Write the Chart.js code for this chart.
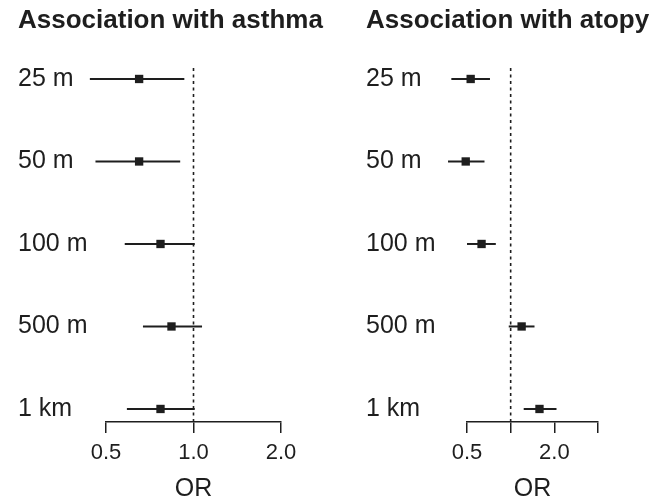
<!DOCTYPE html>
<html>
<head>
<meta charset="utf-8">
<script src="https://cdn.jsdelivr.net/npm/chart.js@4/dist/chart.umd.min.js"></script>
<style>
  body { margin: 0; background: #fff; }
  #wrap { position: relative; width: 663px; height: 500px; }
  canvas { position: absolute; top: 0; }
</style>
</head>
<body>
<div id="wrap">
  <canvas id="asthma" width="331" height="500" style="left:0"></canvas>
  <canvas id="atopy" width="332" height="500" style="left:331px"></canvas>
</div>
<script>
const distances = ['25 m', '50 m', '100 m', '500 m', '1 km'];

// odds ratios with 95% CI
const asthmaOR = [0.65, 0.65, 0.77, 0.84, 0.77];
const asthmaLo = [0.44, 0.46, 0.58, 0.67, 0.59];
const asthmaHi = [0.93, 0.90, 1.01, 1.07, 1.01];

const atopyOR = [0.53, 0.49, 0.63, 1.19, 1.58];
const atopyLo = [0.39, 0.37, 0.50, 0.97, 1.23];
const atopyHi = [0.72, 0.66, 0.79, 1.46, 2.07];

const asthmaTicks = [0.5, 1, 2];
const asthmaTickLabels = ['0.5', '1.0', '2.0'];
const atopyTicks = [0.5, 1, 2, 4];
const atopyTickLabels = ['0.5', '', '2.0', ''];

const nullOR = 1;
const ink = '#1e1e1e';
const font = "Arial, 'Liberation Sans', Helvetica, sans-serif";

// y positions of rows are 1..n, top to bottom
const yMin = 0.867;
const yMax = 5.158;

function forest(id, title, est, lo, hi, ticks, tickLabels, pad, yWidth) {
  const ctx = document.getElementById(id).getContext('2d');

  const datasets = [{
    data: est.map((v, i) => ({ x: v, y: i + 1 })),
    pointStyle: 'rect',
    pointRadius: 5.9,
    borderWidth: 0,
    backgroundColor: ink,
    clip: false
  }];

  distances.forEach((d, i) => {
    datasets.push({
      data: [{ x: lo[i], y: i + 1 }, { x: hi[i], y: i + 1 }],
      showLine: true,
      pointRadius: 0,
      borderColor: ink,
      borderWidth: 2,
      clip: false
    });
  });

  // dotted line at OR = 1
  datasets.push({
    data: [{ x: nullOR, y: yMin }, { x: nullOR, y: yMax }],
    showLine: true,
    pointRadius: 0,
    borderColor: ink,
    borderWidth: 1.6,
    borderDash: [3, 3.5],
    clip: false
  });

  return new Chart(ctx, {
    type: 'scatter',
    data: { datasets },
    options: {
      responsive: false,
      animation: false,
      events: [],
      layout: { padding: { left: pad[0], right: 0, top: 0, bottom: 0 } },
      plugins: {
        legend: { display: false },
        tooltip: { enabled: false },
        title: {
          display: true,
          text: title,
          align: 'start',
          color: ink,
          font: { family: font, size: 26, weight: 'bold' },
          padding: { top: 5, bottom: 31.8 }
        }
      },
      scales: {
        x: {
          type: 'logarithmic',
          min: ticks[0],
          max: ticks[ticks.length - 1],
          afterBuildTicks: s => { s.ticks = ticks.map(v => ({ value: v })); },
          afterFit: s => { s.height = 78; },
          grid: {
            drawOnChartArea: false,
            tickLength: 11,
            color: ink,
            lineWidth: 1.5
          },
          border: { display: true, color: ink, width: 1.5 },
          ticks: {
            autoSkip: false,
            maxRotation: 0,
            padding: 7,
            color: ink,
            font: { family: font, size: 22 },
            callback: (v, i) => tickLabels[i]
          },
          title: {
            display: true,
            text: 'OR',
            color: ink,
            font: { family: font, size: 25 },
            padding: { top: 0, bottom: -4 }
          }
        },
        y: {
          type: 'linear',
          reverse: true,
          min: yMin,
          max: yMax,
          afterBuildTicks: s => { s.ticks = distances.map((d, i) => ({ value: i + 1 })); },
          afterFit: s => { s.width = yWidth; },
          grid: { display: false },
          border: { display: false },
          ticks: {
            autoSkip: false,
            crossAlign: 'far',
            color: ink,
            font: { family: font, size: 25 },
            callback: (v, i) => distances[i]
          }
        },
        // empty right margin, kept as a box so the title can use the full width
        margin: {
          type: 'linear',
          position: 'right',
          afterFit: s => { s.width = pad[1]; },
          grid: { display: false },
          border: { display: false },
          ticks: { display: false }
        }
      }
    }
  });
}

forest('asthma', 'Association with asthma', asthmaOR, asthmaLo, asthmaHi,
  asthmaTicks, asthmaTickLabels, [18, 50], 88);
forest('atopy', 'Association with atopy', atopyOR, atopyLo, atopyHi,
  atopyTicks, atopyTickLabels, [35, 65], 101);
</script>
</body>
</html>
